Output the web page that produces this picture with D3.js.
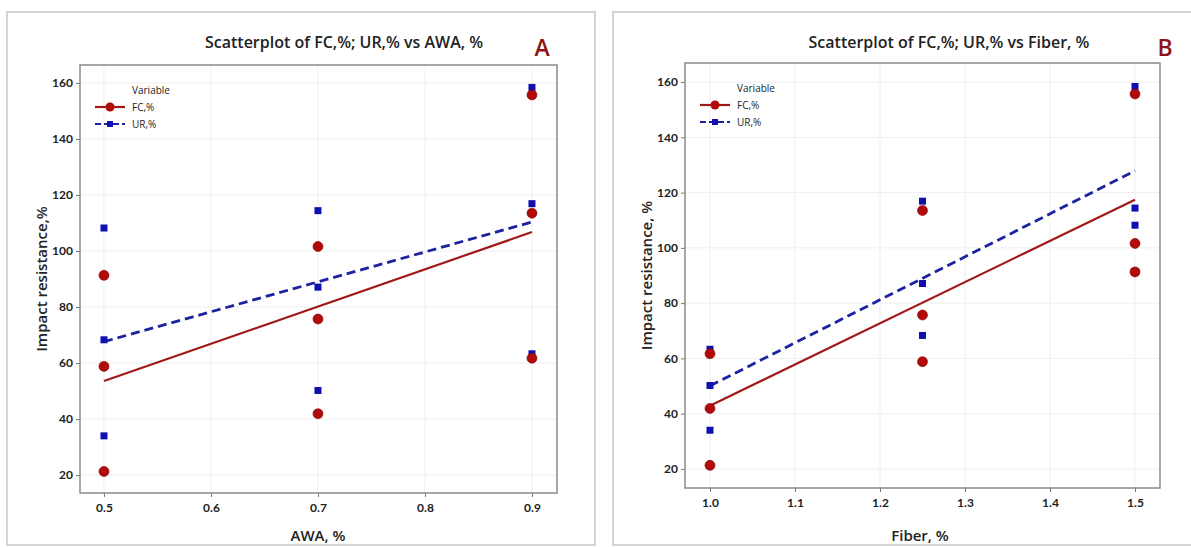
<!DOCTYPE html>
<html>
<head>
<meta charset="utf-8">
<script src="https://cdn.jsdelivr.net/npm/d3@7"></script>
<style>
  body { margin: 0; background: #fff; }
  svg text { font-family: "Open Sans", "Noto Sans", sans-serif; fill: #222; }
</style>
</head>
<body>
<svg id="chart" width="1191" height="547"></svg>
<script>
// DATA
/***********************/
// panel A: impact resistance vs AWA, %
var awaX  = [0.5, 0.5, 0.5, 0.7, 0.7, 0.7, 0.9, 0.9, 0.9];
var awaFC = [91.3, 58.8, 21.3, 101.6, 75.7, 41.9, 155.7, 113.5, 61.7];
var awaUR = [108.2, 68.3, 34.0, 114.4, 87.1, 50.2, 158.4, 116.9, 63.3];
var awaTicks = [0.5, 0.6, 0.7, 0.8, 0.9];

// panel B: impact resistance vs Fiber, %
var fibX  = [1.0, 1.0, 1.0, 1.25, 1.25, 1.25, 1.5, 1.5, 1.5];
var fibFC = [61.7, 41.9, 21.3, 113.5, 75.7, 58.8, 155.7, 101.6, 91.3];
var fibUR = [63.3, 50.2, 34.0, 116.9, 87.1, 68.3, 158.4, 114.4, 108.2];
var fibTicks = [1.0, 1.1, 1.2, 1.3, 1.4, 1.5];

var yTicks = [20, 40, 60, 80, 100, 120, 140, 160];

// LAYOUT
/***********************/
var FC_COLOR = "#b00a0a",
    FC_LINE = "#a11818",
    UR_COLOR = "#1010b0",
    UR_LINE = "#1c22a0";

var panels = [
  {
    box: [7, 12, 595, 545],
    frame: { left: 80, right: 557, top: 65, bottom: 493 },
    xDomain: [0.4776, 0.9234], yDomain: [13.6, 166.4],
    xs: awaX, fc: awaFC, ur: awaUR, xTicks: awaTicks, fmt: d3.format(".1f"),
    title: "Scatterplot of FC,%; UR,% vs AWA, %", titleX: 344,
    letter: "A", letterX: 542,
    xLabel: "AWA, %", xLabelX: 318,
    yLabel: "Impact resistance,%", yLabelX: 42
  },
  {
    box: [613, 12, 1200, 545],
    frame: { left: 685, right: 1160, top: 63, bottom: 488 },
    xDomain: [0.9706, 1.5294], yDomain: [13.1, 166.9],
    xs: fibX, fc: fibFC, ur: fibUR, xTicks: fibTicks, fmt: d3.format(".1f"),
    title: "Scatterplot of FC,%; UR,% vs Fiber, %", titleX: 949,
    letter: "B", letterX: 1165,
    xLabel: "Fiber, %", xLabelX: 920,
    yLabel: "Impact resistance, %", yLabelX: 647
  }
];

var svg = d3.select("#chart");

// least squares fit, returns [a, b] for y = a + b x
function fit(xs, ys) {
  var mx = d3.mean(xs), my = d3.mean(ys);
  var sxy = d3.sum(xs, function(x, i) { return (x - mx) * (ys[i] - my); });
  var sxx = d3.sum(xs, function(x) { return (x - mx) * (x - mx); });
  var b = sxy / sxx;
  return [my - b * mx, b];
}

function drawPanel(p) {
  var f = p.frame;
  var x = d3.scaleLinear().domain(p.xDomain).range([f.left, f.right]);
  var y = d3.scaleLinear().domain(p.yDomain).range([f.bottom, f.top]);

  // outer grey border
  svg.append("rect")
    .attr("x", p.box[0]).attr("y", p.box[1])
    .attr("width", p.box[2] - p.box[0]).attr("height", p.box[3] - p.box[1])
    .attr("fill", "none").attr("stroke", "#d4d4d4").attr("stroke-width", 2);

  var g = svg.append("g");

  // faint gridlines
  g.selectAll(".hgrid").data(yTicks).enter().append("line")
    .attr("x1", f.left).attr("x2", f.right)
    .attr("y1", function(d) { return y(d); }).attr("y2", function(d) { return y(d); })
    .attr("stroke", "#efefef").attr("stroke-width", 1);
  g.selectAll(".vgrid").data(p.xTicks).enter().append("line")
    .attr("y1", f.top).attr("y2", f.bottom)
    .attr("x1", function(d) { return x(d); }).attr("x2", function(d) { return x(d); })
    .attr("stroke", "#efefef").attr("stroke-width", 1);

  // axes
  var xAxis = g.append("g")
    .attr("transform", "translate(0," + f.bottom + ")")
    .call(d3.axisBottom(x).tickValues(p.xTicks).tickFormat(p.fmt).tickSize(4).tickPadding(6));
  var yAxis = g.append("g")
    .attr("transform", "translate(" + f.left + ",0)")
    .call(d3.axisLeft(y).tickValues(yTicks).tickSize(4).tickPadding(3));
  [xAxis, yAxis].forEach(function(a) {
    a.select(".domain").remove();
    a.selectAll(".tick line").attr("stroke", "#777");
    a.selectAll(".tick text")
      .attr("font-size", 12).attr("font-weight", 700)
      .style("font-family", "Lato, 'Open Sans', sans-serif")
      .attr("fill", "#1a1a1a");
  });

  // plot frame
  g.append("rect")
    .attr("x", f.left).attr("y", f.top)
    .attr("width", f.right - f.left).attr("height", f.bottom - f.top)
    .attr("fill", "none").attr("stroke", "#8a8a8a").attr("stroke-width", 1.5);

  // fitted lines
  var xr = d3.extent(p.xs);
  var fcFit = fit(p.xs, p.fc), urFit = fit(p.xs, p.ur);
  g.append("line")
    .attr("x1", x(xr[0])).attr("x2", x(xr[1]))
    .attr("y1", y(fcFit[0] + fcFit[1] * xr[0])).attr("y2", y(fcFit[0] + fcFit[1] * xr[1]))
    .attr("stroke", FC_LINE).attr("stroke-width", 2.2);
  g.append("line")
    .attr("x1", x(xr[0])).attr("x2", x(xr[1]))
    .attr("y1", y(urFit[0] + urFit[1] * xr[0])).attr("y2", y(urFit[0] + urFit[1] * xr[1]))
    .attr("stroke", UR_LINE).attr("stroke-width", 2.8).attr("stroke-dasharray", "9,5");

  // points
  g.selectAll(".ur").data(p.ur).enter().append("rect")
    .attr("x", function(d, i) { return x(p.xs[i]) - 3.5; })
    .attr("y", function(d) { return y(d) - 3.5; })
    .attr("width", 7).attr("height", 7)
    .attr("fill", UR_COLOR);
  g.selectAll(".fc").data(p.fc).enter().append("circle")
    .attr("cx", function(d, i) { return x(p.xs[i]); })
    .attr("cy", function(d) { return y(d); })
    .attr("r", 5)
    .attr("fill", FC_COLOR).attr("stroke", "#8a0000").attr("stroke-width", 0.6);

  // legend
  var lx = f.left + 15, ly = f.top + 25;
  var leg = g.append("g").attr("transform", "translate(" + lx + "," + ly + ")");
  leg.append("text").attr("x", 37).attr("y", 0).attr("dy", "0.35em")
    .attr("font-size", 10).text("Variable");
  var items = [
    { name: "FC,%", color: FC_LINE, dash: null, w: 2.2, mark: "circle" },
    { name: "UR,%", color: UR_LINE, dash: "6,3", w: 2.2, mark: "square" }
  ];
  items.forEach(function(it, i) {
    var yy = 17 + i * 17;
    leg.append("line").attr("x1", 0).attr("x2", 30).attr("y1", yy).attr("y2", yy)
      .attr("stroke", it.color).attr("stroke-width", it.w)
      .attr("stroke-dasharray", it.dash);
    if (it.mark === "circle") {
      leg.append("circle").attr("cx", 15).attr("cy", yy).attr("r", 4.5).attr("fill", FC_COLOR);
    } else {
      leg.append("rect").attr("x", 12).attr("y", yy - 3).attr("width", 6).attr("height", 6).attr("fill", UR_COLOR);
    }
    leg.append("text").attr("x", 37).attr("y", yy).attr("dy", "0.35em")
      .attr("font-size", 10).text(it.name);
  });

  // titles and labels
  svg.append("text")
    .attr("x", p.titleX).attr("y", 42).attr("dy", "0.35em")
    .attr("text-anchor", "middle").attr("font-size", 16).attr("font-weight", 600)
    .text(p.title);
  svg.append("text")
    .attr("x", p.letterX).attr("y", 48).attr("dy", "0.35em")
    .attr("text-anchor", "middle").attr("font-size", 23).attr("font-weight", 600)
    .style("fill", "#8e1414")
    .text(p.letter);
  svg.append("text")
    .attr("x", p.xLabelX).attr("y", 536).attr("dy", "0.35em")
    .attr("text-anchor", "middle").attr("font-size", 15).attr("font-weight", 600)
    .text(p.xLabel);
  svg.append("text")
    .attr("transform", "translate(" + p.yLabelX + "," + ((f.top + f.bottom) / 2) + ") rotate(-90)")
    .attr("dy", "0.35em")
    .attr("text-anchor", "middle").attr("font-size", 15).attr("font-weight", 600)
    .text(p.yLabel);
}

panels.forEach(drawPanel);
</script>
</body>
</html>
